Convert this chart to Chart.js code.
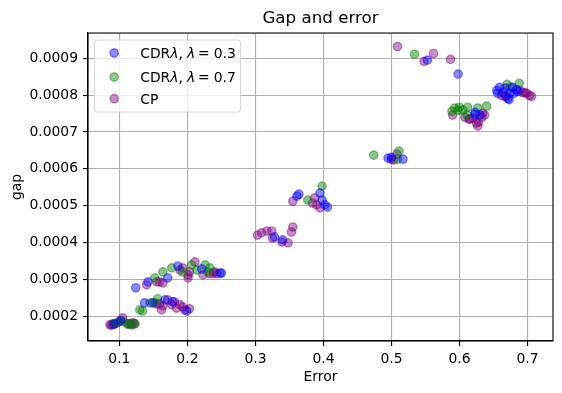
<!DOCTYPE html>
<html><head><meta charset="utf-8">
<script src="https://cdn.jsdelivr.net/npm/chart.js@4/dist/chart.umd.min.js"></script>
<style>html,body{margin:0;padding:0;background:#fff;}canvas{display:block;}</style>
</head><body>
<canvas id="c" width="562" height="393" style="width:562px;height:393px"></canvas>
<script>
const chartTitle = 'Gap and error';
const xAxisTitle = 'Error';
const yAxisTitle = 'gap';
const seriesNames = ['CDRλ, λ = 0.3', 'CDRλ, λ = 0.7', 'CP'];
const xTicks = [0.1, 0.2, 0.3, 0.4, 0.5, 0.6, 0.7];
const xTickLabels = ['0.1', '0.2', '0.3', '0.4', '0.5', '0.6', '0.7'];
const yTicks = [0.0002, 0.0003, 0.0004, 0.0005, 0.0006, 0.0007, 0.0008, 0.0009];
const yTickLabels = ['0.0002', '0.0003', '0.0004', '0.0005', '0.0006', '0.0007', '0.0008', '0.0009'];

const cdr03X = [0.092,0.102,0.137,0.149,0.167,0.178,0.199,0.124,0.142,0.171,0.186,0.221,0.248,0.250,0.328,0.340,0.361,0.364,0.395,0.398,0.402,0.406,0.495,0.500,0.517,0.553,0.598,0.623,0.630,0.623,0.655,0.656,0.659,0.664,0.667,0.671,0.673,0.674,0.678,0.680,0.684,0.686];
const cdr03Y = [0.000178,0.000188,0.000236,0.000236,0.000244,0.000239,0.000214,0.000277,0.000293,0.000304,0.000336,0.000328,0.000317,0.000317,0.000415,0.000407,0.000526,0.000531,0.000534,0.000515,0.000502,0.000496,0.000629,0.000631,0.000626,0.000895,0.000857,0.000748,0.000746,0.000753,0.000813,0.000805,0.000821,0.000807,0.000819,0.000791,0.000788,0.000805,0.000821,0.000805,0.000815,0.000810];

const cdr07X = [0.092,0.098,0.105,0.112,0.118,0.122,0.130,0.134,0.145,0.152,0.156,0.152,0.164,0.177,0.193,0.206,0.214,0.226,0.230,0.233,0.377,0.398,0.474,0.509,0.511,0.534,0.589,0.593,0.598,0.600,0.605,0.611,0.612,0.627,0.640,0.670,0.675,0.688];
const cdr07Y = [0.000180,0.000183,0.000185,0.000178,0.000176,0.000180,0.000217,0.000214,0.000236,0.000236,0.000247,0.000304,0.000320,0.000331,0.000320,0.000339,0.000325,0.000339,0.000320,0.000331,0.000515,0.000553,0.000637,0.000626,0.000648,0.000911,0.000756,0.000765,0.000759,0.000767,0.000759,0.000746,0.000767,0.000765,0.000770,0.000829,0.000822,0.000832];

const cpX = [0.086,0.088,0.090,0.095,0.100,0.105,0.113,0.115,0.118,0.120,0.123,0.155,0.159,0.162,0.164,0.171,0.177,0.181,0.184,0.189,0.193,0.196,0.203,0.140,0.155,0.159,0.164,0.189,0.193,0.201,0.201,0.203,0.211,0.223,0.233,0.238,0.240,0.243,0.303,0.309,0.317,0.324,0.325,0.339,0.348,0.353,0.355,0.355,0.384,0.387,0.390,0.395,0.500,0.503,0.508,0.509,0.548,0.562,0.587,0.590,0.608,0.614,0.615,0.620,0.625,0.627,0.628,0.633,0.634,0.637,0.662,0.667,0.668,0.689,0.693,0.696,0.699,0.703,0.706];
const cpY = [0.000177,0.000175,0.000178,0.000180,0.000185,0.000195,0.000179,0.000180,0.000178,0.000182,0.000179,0.000233,0.000233,0.000217,0.000228,0.000244,0.000231,0.000239,0.000222,0.000231,0.000225,0.000217,0.000220,0.000285,0.000293,0.000293,0.000290,0.000325,0.000331,0.000312,0.000304,0.000320,0.000347,0.000312,0.000315,0.000317,0.000320,0.000315,0.000420,0.000426,0.000431,0.000431,0.000412,0.000401,0.000399,0.000428,0.000442,0.000512,0.000507,0.000521,0.000502,0.000494,0.000626,0.000624,0.000640,0.000932,0.000892,0.000913,0.000897,0.000746,0.000740,0.000735,0.000735,0.000737,0.000724,0.000716,0.000727,0.000740,0.000751,0.000746,0.000799,0.000797,0.000797,0.000813,0.000807,0.000807,0.000805,0.000799,0.000797];

const ALPHA = 0.45;
const baseColors = [[0,0,255],[0,128,0],[128,0,128]];
const rgba = (c,a) => `rgba(${c[0]},${c[1]},${c[2]},${a})`;
const FONT = 'DejaVu Sans';

function pts(xs, ys){ return xs.map((x,i)=>({x:x, y:ys[i]})); }
const seriesData = [pts(cdr03X,cdr03Y), pts(cdr07X,cdr07Y), pts(cpX,cpY)];

const datasets = seriesData.map((d,i)=>({
  label: seriesNames[i],
  data: d,
  showLine: false,
  pointRadius: 4.17,
  pointHoverRadius: 4.17,
  pointBorderWidth: 1.4,
  pointBackgroundColor: rgba(baseColors[i], ALPHA),
  pointBorderColor: rgba(baseColors[i], ALPHA)
}));

const framePlugin = {
  id: 'frame',
  afterDatasetsDraw(chart){
    const {ctx, chartArea: a} = chart;
    ctx.save();
    ctx.strokeStyle = '#000';
    ctx.lineWidth = 1.1;
    ctx.strokeRect(a.left, a.top, a.right - a.left, a.bottom - a.top);
    ctx.restore();
  }
};

const legendPlugin = {
  id: 'mplLegend',
  afterDraw(chart){
    const {ctx, chartArea: a} = chart;
    const bx = a.left + 6.5, by = a.top + 7, bw = 146, bh = 72, r = 3;
    ctx.save();
    ctx.beginPath();
    ctx.moveTo(bx + r, by);
    ctx.arcTo(bx + bw, by, bx + bw, by + bh, r);
    ctx.arcTo(bx + bw, by + bh, bx, by + bh, r);
    ctx.arcTo(bx, by + bh, bx, by, r);
    ctx.arcTo(bx, by, bx + bw, by, r);
    ctx.closePath();
    ctx.fillStyle = 'rgba(255,255,255,0.8)';
    ctx.fill();
    ctx.strokeStyle = 'rgba(204,204,204,0.8)';
    ctx.lineWidth = 1;
    ctx.stroke();
    const rowsY = [by + 13, by + 37, by + 58.7];
    const mx = bx + 19.7, tx = bx + 45.7;
    const normal = `13.9px "${FONT}"`, italic = `italic 13.9px "${FONT}"`;
    ctx.textBaseline = 'alphabetic';
    ctx.fillStyle = '#000';
    seriesNames.forEach((name, i) => {
      const y = rowsY[i];
      ctx.beginPath();
      ctx.arc(mx, y, 4.17, 0, Math.PI*2);
      ctx.fillStyle = rgba(baseColors[i], ALPHA);
      ctx.fill();
      ctx.strokeStyle = rgba(baseColors[i], ALPHA);
      ctx.lineWidth = 1.4;
      ctx.stroke();
      ctx.fillStyle = '#000';
      const base = y + 4.8;
      if (name.indexOf('λ') < 0) {
        ctx.font = normal;
        ctx.fillText(name, tx, base);
        return;
      }
      const val = name.split('=')[1].trim();
      let x = tx;
      ctx.font = normal; ctx.fillText('CDR', x, base); x += ctx.measureText('CDR').width;
      ctx.font = italic; ctx.fillText('λ', x, base); x += ctx.measureText('λ').width;
      ctx.font = normal; ctx.fillText(',', x, base); x += ctx.measureText(',').width + 4;
      ctx.font = italic; ctx.fillText('λ', x, base); x += ctx.measureText('λ').width + 3;
      ctx.font = normal; ctx.fillText('=', x, base); x += ctx.measureText('=').width + 4;
      ctx.fillText(val, x, base);
    });
    ctx.restore();
  }
};

new Chart(document.getElementById('c'), {
  type: 'scatter',
  data: { datasets },
  options: {
    responsive: false,
    animation: false,
    devicePixelRatio: 1,
    layout: { padding: { left: 0, right: 9, top: 0, bottom: 0 } },
    plugins: {
      legend: { display: false },
      tooltip: { enabled: false },
      title: {
        display: true, text: chartTitle, color: '#000', fullSize: false,
        font: { family: FONT, size: 16.7, weight: 'normal' },
        padding: { top: 9, bottom: 4 }
      }
    },
    scales: {
      x: {
        type: 'linear', min: 0.0538, max: 0.7376,
        afterBuildTicks: s => { s.ticks = xTicks.map(v => ({ value: v })); },
        afterFit: s => { s.height = 52; },
        ticks: { callback: (v, i) => xTickLabels[i], color: '#000', padding: 5, maxRotation: 0, autoSkip: false,
                 font: { family: FONT, size: 13.9 } },
        grid: { color: '#b0b0b0', lineWidth: 1.1, tickColor: '#000', tickLength: 5, tickWidth: 1.1 },
        border: { color: '#000', width: 1.1 },
        title: { display: true, text: xAxisTitle, color: '#000', font: { family: FONT, size: 13.9 }, padding: { top: 0, bottom: 7.7 } }
      },
      y: {
        type: 'linear', min: 0.0001325, max: 0.0009686,
        afterBuildTicks: s => { s.ticks = yTicks.map(v => ({ value: v })); },
        afterFit: s => { s.width = 88; },
        ticks: { callback: (v, i) => yTickLabels[i], color: '#000', padding: 5, autoSkip: false,
                 font: { family: FONT, size: 13.9 } },
        grid: { color: '#b0b0b0', lineWidth: 1.1, tickColor: '#000', tickLength: 5, tickWidth: 1.1 },
        border: { color: '#000', width: 1.1 },
        title: { display: true, text: yAxisTitle, color: '#000', font: { family: FONT, size: 13.9 }, padding: { top: 8.7, bottom: 0 } }
      }
    }
  },
  plugins: [framePlugin, legendPlugin]
});
</script>
</body></html>
